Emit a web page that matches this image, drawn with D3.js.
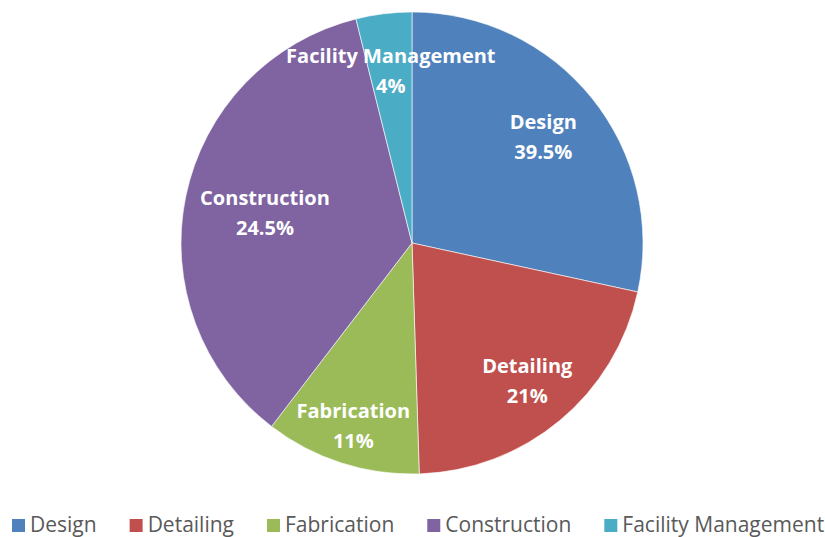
<!DOCTYPE html>
<html>
<head>
<meta charset="utf-8">
<script src="https://cdn.jsdelivr.net/npm/d3@7"></script>
<style>
  body { margin: 0; background: #fff; }
  svg { display: block; }
</style>
</head>
<body>
<div id="container"></div>
<script>
/* DATA */
const categories = ["Design", "Detailing", "Fabrication", "Construction", "Facility Management"]
const values = [28.4, 21.1, 10.9, 35.7, 3.9]
const labelTexts = ["39.5%", "21%", "11%", "24.5%", "4%"]
const colors = ["#4F81BD", "#C0504D", "#9BBB59", "#8064A2", "#4BACC6"]

/* LAYOUT */
const width = 825, height = 537
const cx = 412, cy = 243, radius = 231
const labelRadius = [0.73, 0.78, 0.83, 0.65, 0.75]
const font = "'Open Sans', Lato, sans-serif"

const svg = d3.select("#container")
  .append("svg")
    .attr("width", width)
    .attr("height", height)

const pie = d3.pie().sort(null).value(d => d.value)
const arcs = pie(categories.map((c, i) => ({ name: c, value: values[i], label: labelTexts[i], i })))

const arc = d3.arc().innerRadius(0).outerRadius(radius)

const g = svg.append("g").attr("transform", `translate(${cx},${cy})`)

g.selectAll("path")
  .data(arcs)
  .join("path")
    .attr("d", arc)
    .attr("fill", d => colors[d.data.i])
    .attr("stroke", "rgba(255,255,255,0.6)")
    .attr("stroke-width", 1)

// data labels
const labels = g.selectAll("text.lbl")
  .data(arcs)
  .join("text")
    .attr("class", "lbl")
    .attr("transform", d => {
      const r = radius * labelRadius[d.data.i]
      const c = d3.arc().innerRadius(r).outerRadius(r).centroid(d)
      return `translate(${c[0]},${c[1]})`
    })
    .attr("text-anchor", "middle")
    .attr("font-family", font)
    .attr("font-weight", "bold")
    .attr("font-size", 20)
    .attr("fill", "#fff")

labels.append("tspan").attr("x", 0).attr("y", -8).text(d => d.data.name)
labels.append("tspan").attr("x", 0).attr("y", 22).text(d => d.data.label)

// legend
const legend = svg.append("g").attr("transform", "translate(12,525)")
let x = 0
categories.forEach((c, i) => {
  legend.append("rect")
    .attr("x", x).attr("y", -6)
    .attr("width", 13).attr("height", 13)
    .attr("fill", colors[i])
  const t = legend.append("text")
    .attr("x", x + 18).attr("y", 7)
    .attr("font-family", font)
    .attr("font-size", 21)
    .attr("fill", "#595959")
    .text(c)
  x += 18 + t.node().getComputedTextLength() + 33
})
</script>
</body>
</html>
